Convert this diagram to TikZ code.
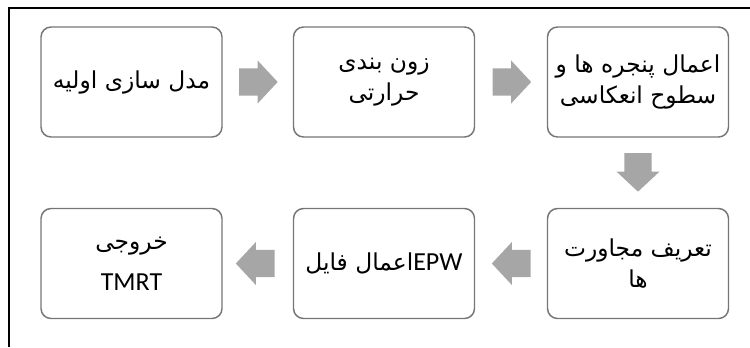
\documentclass[tikz,border=0pt]{standalone}
\usepackage{fontspec}
\setmainfont{Carlito}
\newfontfamily\arabicfont[Script=Arabic]{DejaVu Sans}
\TeXXeTstate=1
\usetikzlibrary{shapes.arrows, calc}
\definecolor{BoxLine}{RGB}{118,118,118}
\definecolor{ArrowFill}{RGB}{166,166,166}
\newcommand{\fa}[1]{{\arabicfont\beginR #1\endR}}
\newcommand{\lat}[1]{\beginL{\normalfont\fontsize{19.5}{22}\selectfont #1}\endL}
\tikzset{
  flowbox/.style={draw=BoxLine, line width=1.1pt, rounded corners=7.5pt, fill=white,
    minimum width=135.75pt, minimum height=82.5pt, align=center,
    font=\fontsize{17.5}{23}\selectfont},
  flowarrow/.style={single arrow, fill=ArrowFill, draw=none, inner xsep=0pt,
    inner ysep=10pt, minimum height=29pt, single arrow head extend=6pt,
    single arrow tip angle=94, anchor=tail},
  frame/.style={black, line width=1.5pt}
}

\begin{document}
\begin{tikzpicture}[x=0.75pt, y=-0.75pt]
  \useasboundingbox (0,0) rectangle (750,347);

  % Frame
  \draw[frame] (9,347) |- (750,8);

  % Top row
  \node[flowbox] (model) at (131.5,82) {\fa{مدل سازی اولیه}};
  \node[flowbox] (zone) at (384,82) {\fa{زون بندی}\\\fa{حرارتی}};
  \node[flowbox] (window) at (638,82) {\fa{اعمال پنجره ها و}\\\fa{سطوح انعکاسی}};

  % Bottom row
  \node[flowbox] (adjacent) at (638,263.5) {\fa{تعریف مجاورت}\\\fa{ها}};
  \node[flowbox] (weather) at (384,263.5) {\fa{\lat{EPW}اعمال فایل}};
  \node[flowbox] (output) at (131.5,263.5) {\fa{خروجی}\\[8pt]\lat{TMRT}};

  % Arrows
  \node[flowarrow] (a1) at ($(model.east)+(16,0)$) {};
  \node[flowarrow] (a2) at ($(zone.east)+(17,0)$) {};
  \node[flowarrow, rotate=-90] (a3) at ($(window.south)+(0,15)$) {};
  \node[flowarrow, rotate=180] (a4) at ($(adjacent.west)+(-16,0)$) {};
  \node[flowarrow, rotate=180] (a5) at ($(weather.west)+(-18,0)$) {};
\end{tikzpicture}
\end{document}
